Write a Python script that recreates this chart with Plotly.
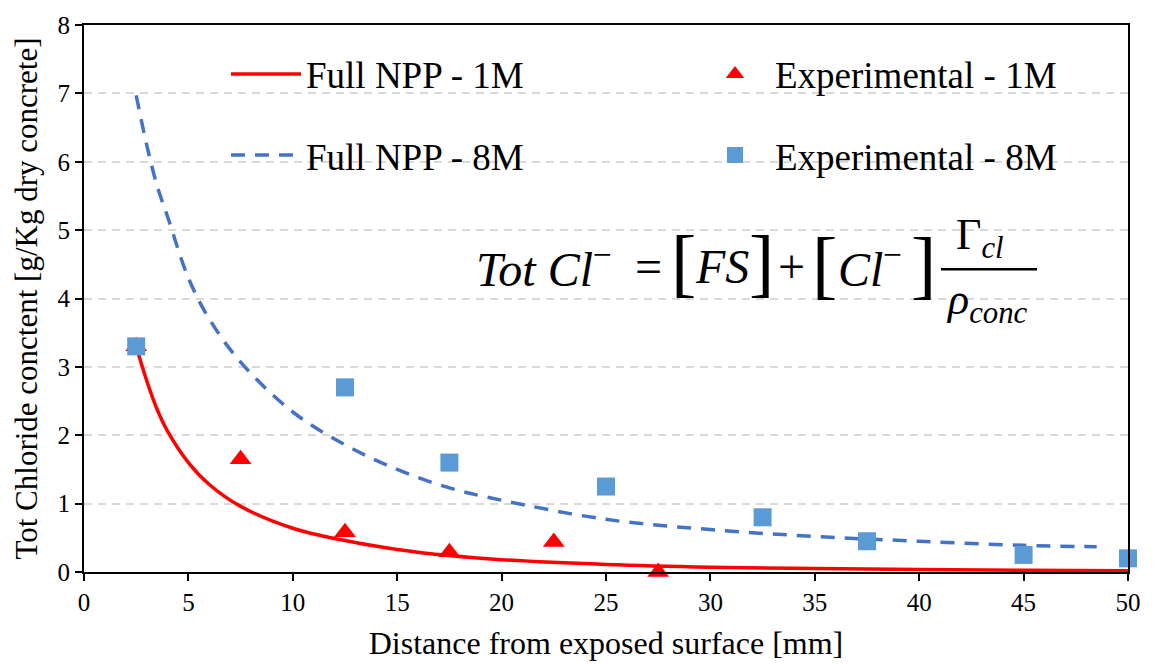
import plotly.graph_objects as go

# ---------------- data ----------------
x_model_1m = [2.5, 3, 3.5, 4, 5, 6, 7.5, 10, 12.5, 15, 17.5, 20, 25, 30, 35, 40, 45, 50]
y_model_1m = [3.3, 2.8, 2.38, 2.06, 1.6, 1.28, 0.96, 0.64, 0.46, 0.33, 0.24, 0.18, 0.11, 0.07, 0.05, 0.035, 0.025, 0.02]

x_model_8m = [2.5, 3, 3.5, 4, 5, 6, 7.5, 10, 12.5, 15, 17.5, 20, 25, 30, 35, 40, 45, 48.5]
y_model_8m = [6.97, 6.25, 5.65, 5.2, 4.3, 3.7, 3.07, 2.34, 1.86, 1.5, 1.23, 1.05, 0.77, 0.62, 0.52, 0.45, 0.39, 0.37]

x_exp_1m = [2.5, 7.5, 12.5, 17.5, 22.5, 27.5]
y_exp_1m = [3.3, 1.65, 0.58, 0.29, 0.44, 0.0]

x_exp_8m = [2.5, 12.5, 17.5, 25, 32.5, 37.5, 45, 50]
y_exp_8m = [3.3, 2.7, 1.6, 1.25, 0.8, 0.45, 0.25, 0.2]

x_ticks = [0, 5, 10, 15, 20, 25, 30, 35, 40, 45, 50]
y_ticks = [0, 1, 2, 3, 4, 5, 6, 7, 8]

names = ["Full NPP - 1M", "Full NPP - 8M", "Experimental - 1M", "Experimental - 8M"]

# ---------------- layout helpers ----------------
W, H = 1153, 667
L, R, T, B = 84, 1128, 19, 572
FONT = "Liberation Serif"


def px(x):
    return (x - L) / (R - L)


def py(y):
    return (B - y) / (B - T)


fig = go.Figure()

fig.add_trace(go.Scatter(x=x_model_1m, y=y_model_1m, mode="lines", name=names[0],
                         line=dict(color="#FF0000", width=3.5, shape="spline"),
                         showlegend=True, legend="legend"))
fig.add_trace(go.Scatter(x=x_model_8m, y=y_model_8m, mode="lines", name=names[1],
                         line=dict(color="#4472C4", width=3.5, dash="14px,10px", shape="spline"),
                         showlegend=True, legend="legend2"))
fig.add_trace(go.Scatter(x=x_exp_1m, y=y_exp_1m, mode="markers", name=names[2],
                         marker=dict(symbol="triangle-up", color="#FF0000", size=19),
                         cliponaxis=False, showlegend=True, legend="legend3"))
fig.add_trace(go.Scatter(x=x_exp_8m, y=y_exp_8m, mode="markers", name=names[3],
                         marker=dict(symbol="square", color="#5B9BD5", size=18),
                         cliponaxis=False, showlegend=True, legend="legend4"))

axis_common = dict(
    showline=True, linecolor="black", linewidth=2, mirror=True,
    ticks="outside", ticklen=7, tickwidth=2, tickcolor="black",
    tickfont=dict(family=FONT, size=25, color="black"),
    zeroline=False,
)

fig.update_xaxes(range=[0, 50], tickvals=x_ticks, showgrid=False,
                 title=dict(text="Distance from exposed surface [mm]",
                            font=dict(family=FONT, size=32, color="black"), standoff=17),
                 **axis_common)
fig.update_yaxes(range=[0, 8], tickvals=y_ticks, showgrid=True, gridcolor="#D9D9D9",
                 gridwidth=1.5, griddash="8px,6px",
                 title=dict(text="Tot Chloride conctent [g/Kg dry concrete]",
                            font=dict(family=FONT, size=31, color="black"), standoff=11),
                 **axis_common)

legend_common = dict(orientation="v", xanchor="left", yanchor="middle",
                     bgcolor="rgba(0,0,0,0)", font=dict(family=FONT, size=37, color="black"),
                     itemwidth=70, visible=True)

# ---------------- formula ----------------
ann = []
def add_text(text, x, y, size, xanchor="center", yanchor="middle"):
    ann.append(dict(text=text, x=px(x), y=py(y), xref="paper", yref="paper",
                    xanchor=xanchor, yanchor=yanchor, showarrow=False,
                    font=dict(family=FONT, size=size, color="black")))

add_text("<i>Tot Cl</i><sup>−</sup>", 474, 263, 48, xanchor="left")
add_text("=", 648, 263, 48)
add_text("[", 683, 259, 76)
add_text("<i>FS</i>", 722, 263, 48)
add_text("]", 761, 259, 76)
add_text("+", 791, 263, 48)
add_text("[", 824, 261, 76)
add_text("<i>Cl</i><sup>−</sup>", 836, 263, 48, xanchor="left")
add_text("]", 923, 261, 76)
add_text("Γ<sub><i>cl</i></sub>", 980, 264, 44, yanchor="bottom")
add_text("<i>ρ</i><sub><i>conc</i></sub>", 987, 270, 44, yanchor="top")

fig.add_shape(type="line", xref="paper", yref="paper",
              x0=px(941), x1=px(1037), y0=py(266), y1=py(266),
              line=dict(color="black", width=2.5))

fig.update_layout(
    width=W, height=H,
    margin=dict(l=L, r=W - R, t=T, b=H - B, pad=0),
    paper_bgcolor="white", plot_bgcolor="white",
    font=dict(family=FONT, color="black"),
    showlegend=True,
    legend=dict(x=px(226), y=py(69), **legend_common),
    legend2=dict(x=px(226), y=py(151), **legend_common),
    legend3=dict(x=px(695), y=py(69), **legend_common),
    legend4=dict(x=px(695), y=py(151), **legend_common),
    annotations=ann,
)

fig.write_html("out.html")
